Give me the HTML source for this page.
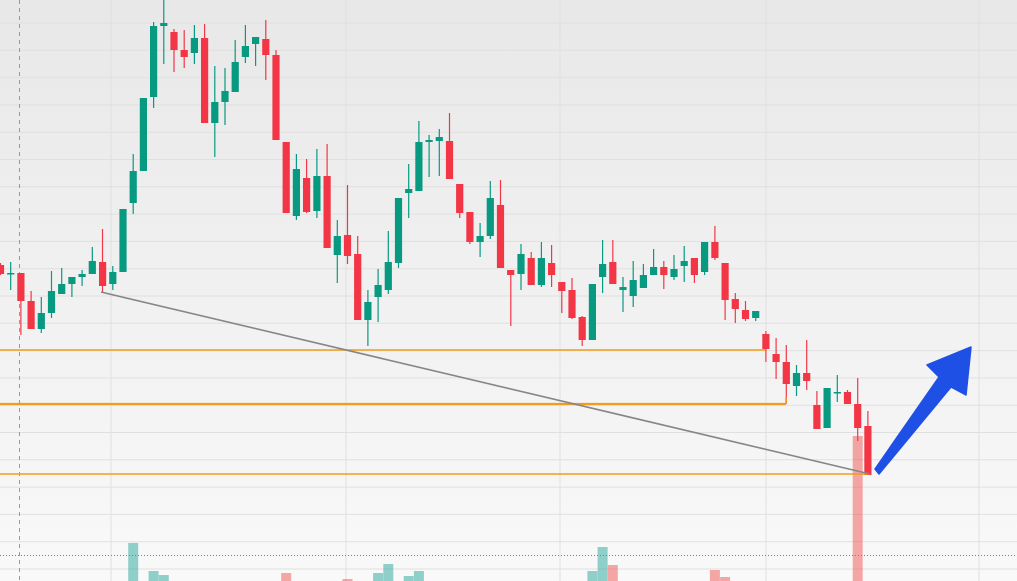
<!DOCTYPE html>
<html><head><meta charset="utf-8"><style>
html,body{margin:0;padding:0;width:1017px;height:581px;overflow:hidden;font-family:"Liberation Sans",sans-serif}
svg{display:block}
</style></head><body>
<svg id="chart" width="1017" height="581" viewBox="0 0 1017 581" xmlns="http://www.w3.org/2000/svg">
<defs><linearGradient id="bg" x1="0" y1="0" x2="0" y2="1"><stop offset="0" stop-color="#e8e8e8"/><stop offset="1" stop-color="#f9f9f9"/></linearGradient></defs>
<rect x="0" y="0" width="1017" height="581" fill="url(#bg)"/>
<g id="grid"></g>
<g id="vol"></g>
<g id="candles"></g>
<g id="annot"></g>
</svg>
<script>
const opens=[335,327,327,299,271,287,306,316,323,326,338,316,328,397,429,503,574,568,550,547,562,477,498,508,543,556,561,545,458,384,422,389,424,345,365,346,280,303,310,337,407,409,458,459,459,416,388,358,364,395,330,326,342,315,337,318,310,283,260,323,338,310,304,312,325,333,323,334,342,328,358,337,301,290,282,266,246,238,214,227,195,172,207,208,196,174];
const closes=[326,327,299,271,287,309,316,323,326,339,314,328,391,429,502,574,577,550,543,562,477,498,509,538,554,563,545,460,387,431,388,424,352,364,344,280,298,315,338,402,411,458,460,463,421,387,358,364,402,332,325,346,315,342,325,309,282,260,316,336,316,313,320,325,333,325,331,339,325,358,342,300,291,281,289,251,238,216,227,219,171,212,208,196,172,125];
const highs=[337,338,327,309,303,329,332,323,330,353,371,334,391,446,502,578,600,571,570,575,576,534,532,560,575,563,580,550,458,446,441,451,456,380,415,364,310,331,369,402,436,479,465,471,487,416,388,377,419,420,330,356,348,358,355,318,322,284,316,360,360,323,339,336,351,339,345,354,342,358,374,337,307,299,289,269,262,255,235,260,209,212,225,210,222,189];
const lows=[325,310,265,271,267,282,306,303,314,326,308,310,328,386,429,492,536,528,532,536,477,443,475,508,537,534,520,460,387,380,387,382,352,317,336,280,254,278,306,332,382,409,423,424,421,382,356,343,361,332,274,310,315,313,313,287,281,254,260,307,316,288,293,312,325,311,320,318,317,325,340,280,277,279,279,238,221,196,204,210,171,172,198,196,159,125];
const volumes=[0,0,0,0,0,0,0,0,0,0,0,0,0,38,0,10,6,0,0,0,0,0,0,0,0,0,0,0,8,0,0,0,0,0,2,0,0,8,17,0,5,10,0,0,0,0,0,0,0,0,0,0,0,0,0,0,0,0,10,34,16,0,0,0,0,0,0,0,0,0,11,4,0,0,0,0,0,0,0,0,0,0,0,0,145,0];
const supportLevels=[250,196,126];
const NS='http://www.w3.org/2000/svg';
function xS(i){return 0.5+i*10.205;}
function yS(p){return 600-p;}
function vS(v){return 581-v;}
function mk(tag,attrs,parent){const e=document.createElementNS(NS,tag);for(const k in attrs)e.setAttribute(k,attrs[k]);parent.appendChild(e);return e;}
const grid=document.getElementById('grid');
for(let y=23;y<581;y+=27.3){const l=mk('line',{x1:0,x2:1017,y1:y.toFixed(1),y2:y.toFixed(1),stroke:'#e0e0e0','stroke-width':1},grid);

}
[111,346,560,766,979].forEach(x=>{const l=mk('line',{x1:x,x2:x,y1:0,y2:581,stroke:'#e0e0e0','stroke-width':1},grid);

});
const dv=mk('line',{x1:19.5,x2:19.5,y1:0,y2:581,stroke:'#999','stroke-width':1,'stroke-dasharray':'4 4'},grid);


const dh=mk('line',{x1:0,x2:1017,y1:555.5,y2:555.5,stroke:'#26a69a','stroke-width':1,'stroke-dasharray':'1 2'},grid);


const vol=document.getElementById('vol');
const n=Math.min(opens.length,closes.length,highs.length,lows.length);
for(let i=0;i<volumes.length&&i<n;i++){if(!volumes[i])continue;const up=closes[i]>=opens[i];
const r=mk('rect',{x:(xS(i)-5).toFixed(1),y:vS(volumes[i]),width:10,height:volumes[i],fill:up?'#26a69a':'#ef5350','fill-opacity':0.5},vol);

}
const cg=document.getElementById('candles');
for(let i=0;i<n;i++){const up=closes[i]>=opens[i];const col=up?'#089981':'#f23645';const x=xS(i);
const w=mk('line',{x1:x.toFixed(1),x2:x.toFixed(1),y1:yS(highs[i]),y2:yS(lows[i]),stroke:col,'stroke-width':1.2},cg);


const top=yS(Math.max(opens[i],closes[i]));const h=Math.max(1.5,Math.abs(opens[i]-closes[i]));
const b=mk('rect',{x:(x-3.6).toFixed(1),y:top,width:7.2,height:h,fill:col},cg);

}
const an=document.getElementById('annot');
const ends=[765,786,868];
supportLevels.forEach((p,k)=>{const l=mk('line',{x1:0,x2:ends[k],y1:yS(p),y2:yS(p),stroke:'#f39c1a','stroke-width':k==1?2.2:1.6},an);

});
const tk=mk('line',{x1:786,x2:786,y1:yS(supportLevels[1])-7,y2:yS(supportLevels[1]),stroke:'#f39c1a','stroke-width':1.6},an);


const tl=mk('line',{x1:101,y1:292,x2:870,y2:474,stroke:'#868686','stroke-width':1.6},an);


const ar=mk('path',{d:'M875,469 L879,474 L951,387 L966,395 L971,347 L927,365 L939,377 Z',fill:'#1e50e6',stroke:'#1e50e6','stroke-width':1.5,'stroke-linejoin':'round'},an);


</script>
</body></html>
